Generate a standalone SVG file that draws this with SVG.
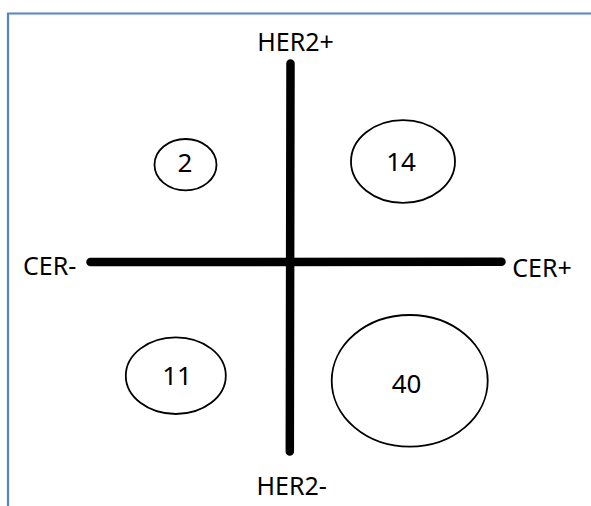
<svg xmlns="http://www.w3.org/2000/svg" width="591" height="506" viewBox="0 0 591 506">
<style>
.lbl{font-family:"Noto Sans","Open Sans","Liberation Sans",sans-serif;font-size:25px;fill:#000;text-anchor:middle}
.num{font-family:"Noto Sans","Open Sans","Liberation Sans",sans-serif;font-size:26px;fill:#000;text-anchor:middle}
.node ellipse{fill:#fff;stroke:#000;stroke-width:1.8}
.axis{stroke:#000;stroke-width:8.5;stroke-linecap:round;fill:none}
</style>
<rect width="591" height="506" fill="#fff"/>
<g id="frame">
<path d="M8 506 V13.5 H591" fill="none" stroke="#5585c4" stroke-width="2.2"/>
</g>
<g id="connectors">
<line class="axis" x1="290.5" y1="63.5" x2="289.8" y2="451.5"/>
<line class="axis" x1="90.5" y1="262" x2="501.5" y2="261.8"/>
</g>
<g id="labels">
<text class="lbl" x="295.5" y="50.7">HER2+</text>
<text class="lbl" x="291.7" y="495">HER2-</text>
<text class="lbl" x="49.7" y="275">CER-</text>
<text class="lbl" x="542" y="276.7">CER+</text>
</g>
<g id="node-2" class="node">
<ellipse cx="185.5" cy="164.7" rx="31" ry="25.7"/>
<text class="num" x="185" y="172.3">2</text>
</g>
<g id="node-14" class="node">
<ellipse cx="403" cy="161.5" rx="52" ry="41.3"/>
<text class="num" x="401" y="170.7">14</text>
</g>
<g id="node-11" class="node">
<ellipse cx="175.8" cy="375.7" rx="50" ry="38.3"/>
<text class="num" x="177" y="385">11</text>
</g>
<g id="node-40" class="node">
<ellipse cx="409.7" cy="380.8" rx="78" ry="65.8"/>
<text class="num" x="406.5" y="393.3">40</text>
</g>
</svg>
